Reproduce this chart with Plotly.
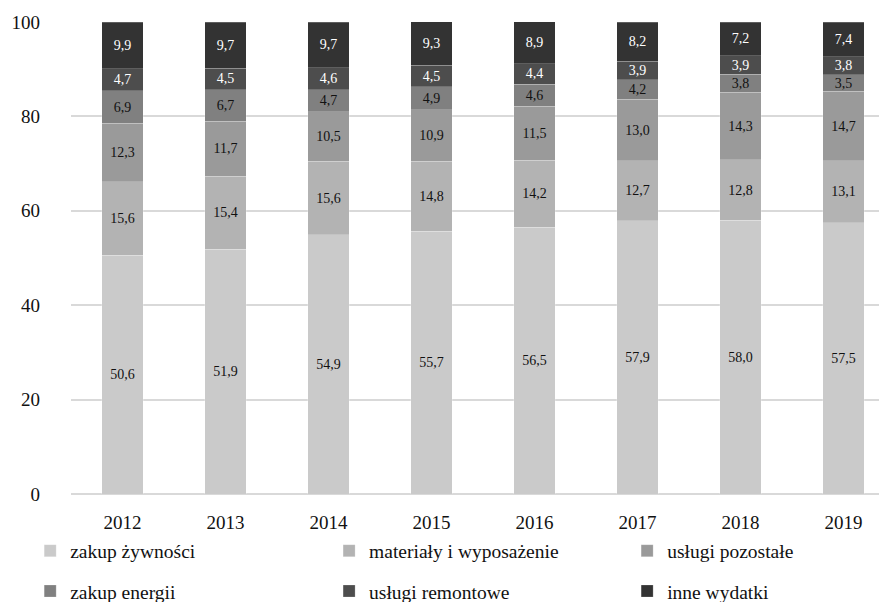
import plotly.graph_objects as go

years = ["2012", "2013", "2014", "2015", "2016", "2017", "2018", "2019"]
series_names = ["zakup żywności", "materiały i wyposażenie", "usługi pozostałe",
                "zakup energii", "usługi remontowe", "inne wydatki"]
zakup_zywnosci = [50.6, 51.9, 54.9, 55.7, 56.5, 57.9, 58.0, 57.5]
materialy = [15.6, 15.4, 15.6, 14.8, 14.2, 12.7, 12.8, 13.1]
uslugi_pozostale = [12.3, 11.7, 10.5, 10.9, 11.5, 13.0, 14.3, 14.7]
zakup_energii = [6.9, 6.7, 4.7, 4.9, 4.6, 4.2, 3.8, 3.5]
uslugi_remontowe = [4.7, 4.5, 4.6, 4.5, 4.4, 3.9, 3.9, 3.8]
inne_wydatki = [9.9, 9.7, 9.7, 9.3, 8.9, 8.2, 7.2, 7.4]
y_ticks = [0, 20, 40, 60, 80, 100]

values = [zakup_zywnosci, materialy, uslugi_pozostale, zakup_energii, uslugi_remontowe, inne_wydatki]
colors = ["#cacaca", "#b3b3b3", "#9a9a9a", "#808080", "#4d4d4d", "#333333"]
text_colors = ["#111111", "#111111", "#111111", "#111111", "#ffffff", "#ffffff"]

# legend placement (container fractions): 3 columns x 2 rows
leg_x = [0.025, 0.362, 0.698]
leg_y = [0.098, 0.031]

FONT = "Liberation Serif"

fig = go.Figure()
layout_legends = {}
for i, (name, vals, col, tcol) in enumerate(zip(series_names, values, colors, text_colors)):
    lid = "legend" if i == 0 else f"legend{i + 1}"
    fig.add_trace(go.Bar(
        x=years, y=vals, name=name,
        marker=dict(color=col, line=dict(width=0.6, color="rgba(255,255,255,0.35)")),
        text=[f"{v:.1f}".replace(".", ",") for v in vals],
        textposition="inside", insidetextanchor="middle", textangle=0,
        constraintext="none",
        textfont=dict(family=FONT, size=14, color=tcol),
        hoverinfo="skip",
        legend=lid, showlegend=True,
    ))
    layout_legends[lid] = dict(
        visible=True,
        orientation="h", xref="container", yref="container",
        x=leg_x[i % 3], xanchor="left", y=leg_y[i // 3], yanchor="middle",
        font=dict(family=FONT, size=19.5, color="#111111"),
        bgcolor="rgba(0,0,0,0)",
        itemclick=False, itemdoubleclick=False,
    )

fig.update_layout(
    showlegend=True,
    barmode="stack",
    bargap=0.6,
    width=887, height=602,
    margin=dict(l=63, r=0, t=14, b=116, autoexpand=False),
    paper_bgcolor="white", plot_bgcolor="white",
    font=dict(family=FONT, size=19, color="#111111"),
    uniformtext=dict(minsize=14, mode="show"),
    xaxis=dict(type="category", range=[-0.5, 7.5], showgrid=False, showline=False,
               ticks="", ticklabelstandoff=15, tickfont=dict(size=19)),
    yaxis=dict(range=[0, 100], tickvals=y_ticks, showgrid=True, gridcolor="#d9d9d9",
               gridwidth=1.5, zeroline=True, zerolinecolor="#d9d9d9", zerolinewidth=1.5,
               showline=False, ticks="", ticklabelstandoff=30, tickfont=dict(size=19)),
    **layout_legends,
)

fig.write_html("out.html")
